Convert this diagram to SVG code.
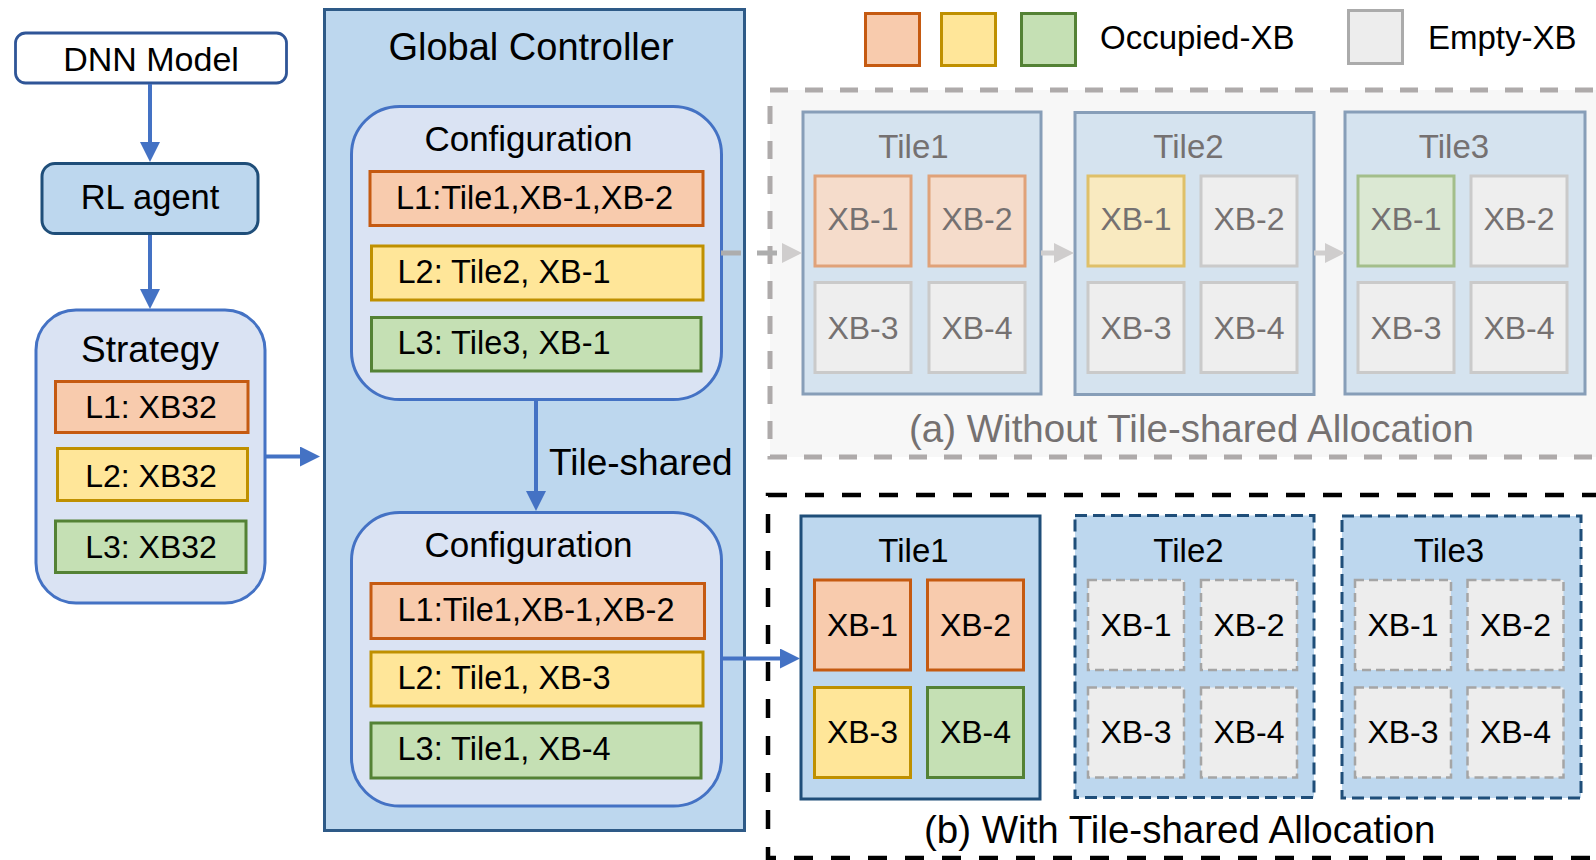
<svg xmlns="http://www.w3.org/2000/svg" width="1596" height="860" viewBox="0 0 1596 860">
  <defs>
    <style>
      text { font-family: "Liberation Sans", Arial, sans-serif; fill: #000; }
      .mid { text-anchor: middle; }
      .gray { fill: #757171; }
      .lbl { font-size: 32.5px; }
      .xb { font-size: 32px; text-anchor: middle; }
      .tile { font-size: 33px; text-anchor: middle; }
      .cap { font-size: 38.5px; }
      .orange { fill: #F8CBAD; stroke: #C55A11; stroke-width: 3; }
      .yellow { fill: #FFE699; stroke: #BF9000; stroke-width: 3; }
      .green { fill: #C5E0B4; stroke: #548235; stroke-width: 3; }
      .empty { fill: #EDEDED; stroke: #ABABAB; stroke-width: 3; }
      .f-orange { fill: #F5DCCB; stroke: #E0A279; stroke-width: 3; }
      .f-yellow { fill: #F9EAC0; stroke: #DFC069; stroke-width: 3; }
      .f-green { fill: #DBE8D3; stroke: #A3BE8B; stroke-width: 3; }
      .f-empty { fill: #EEEEEE; stroke: #CACACA; stroke-width: 3; }
      .d-empty { fill: #EDEDED; stroke: #A5A5A5; stroke-width: 2.5; stroke-dasharray: 9 5; }
      .cfg { fill: #DAE3F3; stroke: #4472C4; stroke-width: 3; }
      .f-tile { fill: #D5E3EF; stroke: #879EB8; stroke-width: 3; }
      .b-tile { fill: #BDD7EE; stroke: #1F4E79; stroke-width: 3; }
      .b-tile-d { fill: #BDD7EE; stroke: #1F4E79; stroke-width: 3; stroke-dasharray: 12 6; }
      .blue-line { stroke: #4472C4; stroke-width: 4; fill: none; }
      .gray-line { stroke: #D0CECE; stroke-width: 5; fill: none; }
    </style>
    <marker id="headBlue" markerUnits="userSpaceOnUse" markerWidth="22" markerHeight="22" refX="0" refY="10" orient="auto">
      <path d="M0,0 L20,10 L0,20 Z" fill="#4472C4"/>
    </marker>
    <marker id="headGray" markerUnits="userSpaceOnUse" markerWidth="22" markerHeight="22" refX="0" refY="10" orient="auto">
      <path d="M0,0 L20,10 L0,20 Z" fill="#CFCDCD"/>
    </marker>
  </defs>

  <rect width="1596" height="860" fill="#FFFFFF"/>

  <!-- legend -->
  <g id="legend">
    <rect x="865.5" y="13.5" width="54" height="52" class="orange"/>
    <rect x="941.5" y="13.5" width="54" height="52" class="yellow"/>
    <rect x="1021.5" y="13.5" width="54" height="52" class="green"/>
    <text x="1100" y="49" font-size="33">Occupied-XB</text>
    <rect x="1348.5" y="10.5" width="54" height="53" class="empty"/>
    <text x="1428" y="49" font-size="33">Empty-XB</text>
  </g>

  <!-- input side -->
  <g id="dnn-model">
    <rect x="15.5" y="33" width="271" height="50" rx="10" fill="#FFFFFF" stroke="#2F5597" stroke-width="2.8"/>
    <text x="151" y="71" font-size="34" class="mid">DNN Model</text>
  </g>
  <g id="rl-agent">
    <rect x="42" y="163.5" width="216" height="70" rx="13" fill="#BDD7EE" stroke="#1F4E79" stroke-width="3"/>
    <text x="150" y="209" font-size="34.5" class="mid">RL agent</text>
  </g>
  <g id="strategy">
    <rect x="36" y="310" width="229" height="293" rx="40" class="cfg"/>
    <text x="150" y="362" font-size="37" class="mid">Strategy</text>
    <rect x="55.5" y="381.5" width="192.5" height="51" class="orange"/>
    <text x="151" y="418" font-size="32" class="mid">L1: XB32</text>
    <rect x="57.5" y="448.5" width="190" height="52" class="yellow"/>
    <text x="151" y="486.5" font-size="32" class="mid">L2: XB32</text>
    <rect x="55.5" y="521" width="190.5" height="51.5" class="green"/>
    <text x="151" y="558" font-size="32" class="mid">L3: XB32</text>
  </g>

  <!-- global controller -->
  <g id="global-controller">
    <rect x="324.5" y="9.5" width="420" height="821" fill="#BDD7EE" stroke="#2E5A87" stroke-width="3"/>
    <text x="531" y="60" font-size="38" class="mid">Global Controller</text>
  </g>
  <g id="configuration-a">
    <rect x="351.5" y="106.5" width="370" height="293" rx="48" class="cfg"/>
    <text x="528.5" y="151" font-size="35" class="mid">Configuration</text>
    <rect x="370" y="171.5" width="333" height="54" class="orange"/>
    <text x="396" y="209" class="lbl">L1:Tile1,XB-1,XB-2</text>
    <rect x="371.5" y="246" width="331.5" height="54" class="yellow"/>
    <text x="397.5" y="283" class="lbl">L2: Tile2, XB-1</text>
    <rect x="371.5" y="317.5" width="329.5" height="53.5" class="green"/>
    <text x="397.5" y="354" class="lbl">L3: Tile3, XB-1</text>
  </g>
  <g id="tile-shared-label">
    <text x="549" y="475" font-size="37">Tile-shared</text>
  </g>
  <g id="configuration-b">
    <rect x="351.5" y="512.5" width="370" height="293.5" rx="48" class="cfg"/>
    <text x="528.5" y="556.5" font-size="35" class="mid">Configuration</text>
    <rect x="371" y="583.5" width="333.5" height="55" class="orange"/>
    <text x="397.5" y="621" class="lbl">L1:Tile1,XB-1,XB-2</text>
    <rect x="371" y="652" width="332" height="54" class="yellow"/>
    <text x="397.5" y="688.5" class="lbl">L2: Tile1, XB-3</text>
    <rect x="371" y="723" width="330" height="55" class="green"/>
    <text x="397.5" y="760" class="lbl">L3: Tile1, XB-4</text>
  </g>

  <!-- (a) without tile-shared allocation -->
  <g id="panel-a">
    <rect x="770" y="90" width="840" height="367" fill="#F7F7F7" stroke="#AEAAAA" stroke-width="5" stroke-dasharray="18 17"/>
    <text x="909" y="441.5" class="cap gray">(a) Without Tile-shared Allocation</text>
  </g>
  <g id="a-tile1">
    <rect x="803" y="112" width="238" height="282" class="f-tile"/>
    <text x="913.5" y="158" class="tile gray">Tile1</text>
    <rect x="815" y="176" width="96" height="90" class="f-orange"/>
    <text x="863" y="230" class="xb gray">XB-1</text>
    <rect x="929" y="176" width="96" height="90" class="f-orange"/>
    <text x="977" y="230" class="xb gray">XB-2</text>
    <rect x="815" y="282.5" width="96" height="90" class="f-empty"/>
    <text x="863" y="338.5" class="xb gray">XB-3</text>
    <rect x="929" y="282.5" width="96" height="90" class="f-empty"/>
    <text x="977" y="338.5" class="xb gray">XB-4</text>
  </g>
  <g id="a-tile2">
    <rect x="1075" y="112.5" width="239" height="282" class="f-tile"/>
    <text x="1188.5" y="158" class="tile gray">Tile2</text>
    <rect x="1088" y="176" width="96" height="90" class="f-yellow"/>
    <text x="1136" y="230" class="xb gray">XB-1</text>
    <rect x="1201" y="176" width="96" height="90" class="f-empty"/>
    <text x="1249" y="230" class="xb gray">XB-2</text>
    <rect x="1088" y="282.5" width="96" height="90" class="f-empty"/>
    <text x="1136" y="338.5" class="xb gray">XB-3</text>
    <rect x="1201" y="282.5" width="96" height="90" class="f-empty"/>
    <text x="1249" y="338.5" class="xb gray">XB-4</text>
  </g>
  <g id="a-tile3">
    <rect x="1345" y="112" width="240" height="282" class="f-tile"/>
    <text x="1454" y="158" class="tile gray">Tile3</text>
    <rect x="1358" y="176" width="96" height="90" class="f-green"/>
    <text x="1406" y="230" class="xb gray">XB-1</text>
    <rect x="1471" y="176" width="96" height="90" class="f-empty"/>
    <text x="1519" y="230" class="xb gray">XB-2</text>
    <rect x="1358" y="282.5" width="96" height="90" class="f-empty"/>
    <text x="1406" y="338.5" class="xb gray">XB-3</text>
    <rect x="1471" y="282.5" width="96" height="90" class="f-empty"/>
    <text x="1519" y="338.5" class="xb gray">XB-4</text>
  </g>

  <!-- (b) with tile-shared allocation -->
  <g id="panel-b">
    <rect x="768" y="495" width="840" height="363" fill="none" stroke="#000000" stroke-width="4.5" stroke-dasharray="19 18"/>
    <text x="924" y="843" class="cap">(b) With Tile-shared Allocation</text>
  </g>
  <g id="b-tile1">
    <rect x="801" y="516" width="239" height="283" class="b-tile"/>
    <text x="913.5" y="561.5" class="tile">Tile1</text>
    <rect x="814.5" y="580" width="96" height="90" class="orange"/>
    <text x="862.5" y="636" class="xb">XB-1</text>
    <rect x="927.5" y="580" width="96" height="90" class="orange"/>
    <text x="975.5" y="636" class="xb">XB-2</text>
    <rect x="814.5" y="687.5" width="96" height="90" class="yellow"/>
    <text x="862.5" y="743" class="xb">XB-3</text>
    <rect x="927.5" y="687.5" width="96" height="90" class="green"/>
    <text x="975.5" y="743" class="xb">XB-4</text>
  </g>
  <g id="b-tile2">
    <rect x="1075" y="515.5" width="239" height="282" class="b-tile-d"/>
    <text x="1188.5" y="561.5" class="tile">Tile2</text>
    <rect x="1088" y="580" width="96" height="90" class="d-empty"/>
    <text x="1136" y="636" class="xb">XB-1</text>
    <rect x="1201" y="580" width="96" height="90" class="d-empty"/>
    <text x="1249" y="636" class="xb">XB-2</text>
    <rect x="1088" y="687.5" width="96" height="90" class="d-empty"/>
    <text x="1136" y="743" class="xb">XB-3</text>
    <rect x="1201" y="687.5" width="96" height="90" class="d-empty"/>
    <text x="1249" y="743" class="xb">XB-4</text>
  </g>
  <g id="b-tile3">
    <rect x="1342" y="516" width="239" height="282" class="b-tile-d"/>
    <text x="1449" y="561.5" class="tile">Tile3</text>
    <rect x="1355" y="580" width="96" height="90" class="d-empty"/>
    <text x="1403" y="636" class="xb">XB-1</text>
    <rect x="1467.5" y="580" width="96" height="90" class="d-empty"/>
    <text x="1515.5" y="636" class="xb">XB-2</text>
    <rect x="1355" y="687.5" width="96" height="90" class="d-empty"/>
    <text x="1403" y="743" class="xb">XB-3</text>
    <rect x="1467.5" y="687.5" width="96" height="90" class="d-empty"/>
    <text x="1515.5" y="743" class="xb">XB-4</text>
  </g>

  <!-- connectors -->
  <g id="connectors">
    <line x1="150" y1="84" x2="150" y2="142" class="blue-line" marker-end="url(#headBlue)"/>
    <line x1="150" y1="235" x2="150" y2="289" class="blue-line" marker-end="url(#headBlue)"/>
    <line x1="265" y1="456.5" x2="300" y2="456.5" class="blue-line" marker-end="url(#headBlue)"/>
    <line x1="536" y1="400" x2="536" y2="491" class="blue-line" marker-end="url(#headBlue)"/>
    <line x1="722" y1="658.5" x2="780" y2="658.5" class="blue-line" marker-end="url(#headBlue)"/>
    <line x1="721" y1="253" x2="782" y2="253" stroke="#ADADAD" stroke-width="5" stroke-dasharray="20 16" marker-end="url(#headGray)"/>
    <line x1="1041" y1="253" x2="1054" y2="253" class="gray-line" marker-end="url(#headGray)"/>
    <line x1="1314" y1="253" x2="1325" y2="253" class="gray-line" marker-end="url(#headGray)"/>
  </g>
</svg>
